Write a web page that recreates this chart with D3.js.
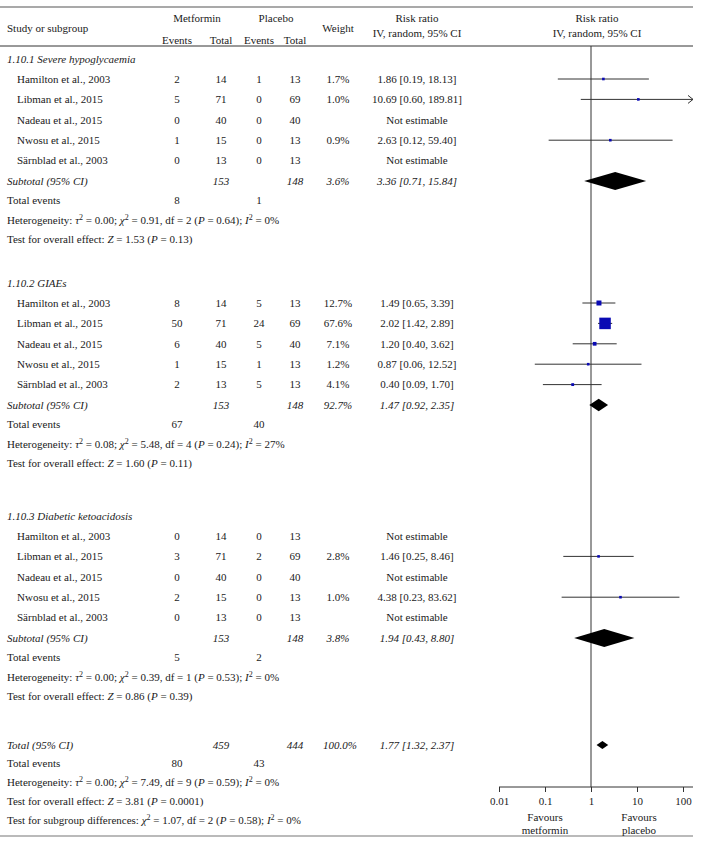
<!DOCTYPE html>
<html><head><meta charset="utf-8">
<script src="https://cdn.jsdelivr.net/npm/d3@7"></script>
<style>
body{margin:0;background:#fff}
text{font-family:"Liberation Serif","Times New Roman",serif;font-size:11px;fill:#1a1a1a}
</style>
</head><body><svg id="c" width="703" height="846"></svg>
<script>
// ---------- data ----------
const subgroups = ["1.10.1 Severe hypoglycaemia", "1.10.2 GIAEs", "1.10.3 Diabetic ketoacidosis"];
const studies = ["Hamilton et al., 2003", "Libman et al., 2015", "Nadeau et al., 2015", "Nwosu et al., 2015", "Särnblad et al., 2003"];
const metEvents = [[2, 5, 0, 1, 0], [8, 50, 6, 1, 2], [0, 3, 0, 2, 0]];
const metTotal = [14, 71, 40, 15, 13];
const plaEvents = [[1, 0, 0, 0, 0], [5, 24, 5, 1, 5], [0, 2, 0, 0, 0]];
const plaTotal = [13, 69, 40, 13, 13];
const weights = [[1.7, 1.0, null, 0.9, null], [12.7, 67.6, 7.1, 1.2, 4.1], [null, 2.8, null, 1.0, null]];
const rr = [[1.86, 10.69, null, 2.63, null], [1.49, 2.02, 1.20, 0.87, 0.40], [null, 1.46, null, 4.38, null]];
const rrLo = [[0.19, 0.60, null, 0.12, null], [0.65, 1.42, 0.40, 0.06, 0.09], [null, 0.25, null, 0.23, null]];
const rrHi = [[18.13, 189.81, null, 59.40, null], [3.39, 2.89, 3.62, 12.52, 1.70], [null, 8.46, null, 83.62, null]];
const subMetTotal = [153, 153, 153];
const subPlaTotal = [148, 148, 148];
const subWeight = [3.6, 92.7, 3.8];
const subRR = [3.36, 1.47, 1.94];
const subLo = [0.71, 0.92, 0.43];
const subHi = [15.84, 2.35, 8.80];
const subMetEvents = [8, 67, 5];
const subPlaEvents = [1, 40, 2];
const hetTau2 = ["0.00", "0.08", "0.00"];
const hetChi2 = ["0.91", "5.48", "0.39"];
const hetDf = [2, 4, 1];
const hetP = ["0.64", "0.24", "0.53"];
const hetI2 = [0, 27, 0];
const testZ = ["1.53", "1.60", "0.86"];
const testP = ["0.13", "0.11", "0.39"];
const overall = {metTotal: 459, plaTotal: 444, weight: "100.0%", rr: 1.77, lo: 1.32, hi: 2.37,
  metEvents: 80, plaEvents: 43, tau2: "0.00", chi2: "7.49", df: 9, p: "0.59", i2: 0, z: "3.81", zp: "0.0001"};
const subgroupDiff = {chi2: "1.07", df: 2, p: "0.58", i2: 0};
const tickValues = [0.01, 0.1, 1, 10, 100];
const tickLabels = ["0.01", "0.1", "1", "10", "100"];

// ---------- layout ----------
const svg = d3.select("#c");
const W = 703;
const col = {name: 7, indent: 17, mE: 177, mT: 221, pE: 259, pT: 295, wt: 338, rr: 417};
const x = d3.scaleLog().domain([0.01, 100]).range([499, 683]);
const xMax = 693;
const fmt2 = d3.format(".2f");
const lineCol = "#333";

const blockStart = [59, 283, 516];
const rows = [];
subgroups.forEach((sg, b) => {
  let y = blockStart[b];
  rows.push({kind: "section", b, y});
  y += 20;
  studies.forEach((s, i) => { rows.push({kind: "study", b, i, y}); y += 20.4; });
  rows.push({kind: "subtotal", b, y: y}); y += 19.5;
  rows.push({kind: "events", b, y}); y += 19.5;
  rows.push({kind: "het", b, y}); y += 19.5;
  rows.push({kind: "test", b, y});
});
const totalY = 745;

function txt(xp, y, s, anchor, italic) {
  return svg.append("text").attr("x", xp).attr("y", y).attr("dy", "0.35em")
    .attr("text-anchor", anchor || "start").style("font-style", italic ? "italic" : "normal").text(s);
}
function rich(xp, y, segs) {
  const t = svg.append("text").attr("x", xp).attr("y", y).attr("dy", "0.35em");
  let shifted = false;
  segs.forEach(sg => {
    const sp = t.append("tspan").text(sg.t);
    if (sg.i) sp.style("font-style", "italic");
    if (sg.sup) { sp.attr("dy", -4).style("font-size", "8px"); shifted = true; }
    else if (shifted) { sp.attr("dy", 4); shifted = false; }
  });
  return t;
}
function hetSegs(tau2, chi2, df, p, i2) {
  return [{t: "Heterogeneity: "}, {t: "τ", i: 1}, {t: "2", sup: 1}, {t: " = " + tau2 + "; "},
    {t: "χ", i: 1}, {t: "2", sup: 1}, {t: " = " + chi2 + ", df = " + df + " ("}, {t: "P", i: 1},
    {t: " = " + p + "); "}, {t: "I", i: 1}, {t: "2", sup: 1}, {t: " = " + i2 + "%"}];
}
function testSegs(z, p) {
  return [{t: "Test for overall effect: "}, {t: "Z", i: 1}, {t: " = " + z + " ("}, {t: "P", i: 1}, {t: " = " + p + ")"}];
}
function diamond(y, est, lo, hi) {
  const xl = x(lo), xr = x(hi), xc = x(est);
  const h = Math.min(9, (xr - xl) / 3);
  svg.append("path").attr("d", `M${xl},${y}L${xc},${y - h}L${xr},${y}L${xc},${y + h}Z`).attr("fill", "#000");
}

// rules
svg.append("line").attr("x1", 0).attr("x2", W - 10).attr("y1", 7).attr("y2", 7).attr("stroke", "#555").attr("stroke-width", 1.2);
svg.append("line").attr("x1", 0).attr("x2", W - 10).attr("y1", 46).attr("y2", 46).attr("stroke", "#333").attr("stroke-width", 1);
svg.append("line").attr("x1", 0).attr("x2", W - 10).attr("y1", 836).attr("y2", 836).attr("stroke", "#777").attr("stroke-width", 1.2);

// header text
txt(col.name, 28, "Study or subgroup");
txt(197, 18, "Metformin", "middle");
txt(276, 18, "Placebo", "middle");
txt(col.mE, 40, "Events", "middle"); txt(col.mT, 40, "Total", "middle");
txt(col.pE, 40, "Events", "middle"); txt(col.pT, 40, "Total", "middle");
txt(col.wt, 28, "Weight", "middle");
txt(col.rr, 18, "Risk ratio", "middle"); txt(col.rr, 33, "IV, random, 95% CI", "middle");
txt(597, 18, "Risk ratio", "middle"); txt(597, 33, "IV, random, 95% CI", "middle");

// null line
svg.append("line").attr("x1", x(1)).attr("x2", x(1)).attr("y1", 46).attr("y2", 787).attr("stroke", lineCol).attr("stroke-width", 1);

rows.forEach(r => {
  const b = r.b;
  if (r.kind === "section") txt(col.name, r.y, subgroups[b], "start", true);
  if (r.kind === "study") {
    const i = r.i;
    txt(col.indent, r.y, studies[i]);
    txt(col.mE, r.y, metEvents[b][i], "middle"); txt(col.mT, r.y, metTotal[i], "middle");
    txt(col.pE, r.y, plaEvents[b][i], "middle"); txt(col.pT, r.y, plaTotal[i], "middle");
    if (rr[b][i] == null) {
      txt(col.rr, r.y, "Not estimable", "middle");
    } else {
      txt(col.wt, r.y, weights[b][i].toFixed(1) + "%", "middle");
      txt(col.rr, r.y, fmt2(rr[b][i]) + " [" + fmt2(rrLo[b][i]) + ", " + fmt2(rrHi[b][i]) + "]", "middle");
      const x1 = x(rrLo[b][i]), x2 = Math.min(x(rrHi[b][i]), xMax);
      svg.append("line").attr("x1", x1).attr("x2", x2).attr("y1", r.y).attr("y2", r.y).attr("stroke", lineCol);
      if (x(rrHi[b][i]) > xMax) {
        svg.append("path").attr("d", `M${xMax - 5},${r.y - 4}L${xMax},${r.y}L${xMax - 5},${r.y + 4}`).attr("fill", "none").attr("stroke", lineCol);
      }
      const s = Math.max(2.6, 1.4 * Math.sqrt(weights[b][i]));
      svg.append("rect").attr("x", x(rr[b][i]) - s / 2).attr("y", r.y - s / 2).attr("width", s).attr("height", s).attr("fill", "#0a0ab4");
    }
  }
  if (r.kind === "subtotal") {
    txt(col.name, r.y, "Subtotal (95% CI)", "start", true);
    txt(col.mT, r.y, subMetTotal[b], "middle", true);
    txt(col.pT, r.y, subPlaTotal[b], "middle", true);
    txt(col.wt, r.y, subWeight[b].toFixed(1) + "%", "middle", true);
    txt(col.rr, r.y, fmt2(subRR[b]) + " [" + fmt2(subLo[b]) + ", " + fmt2(subHi[b]) + "]", "middle", true);
    diamond(r.y, subRR[b], subLo[b], subHi[b]);
  }
  if (r.kind === "events") {
    txt(col.name, r.y, "Total events");
    txt(col.mE, r.y, subMetEvents[b], "middle");
    txt(col.pE, r.y, subPlaEvents[b], "middle");
  }
  if (r.kind === "het") rich(col.name, r.y, hetSegs(hetTau2[b], hetChi2[b], hetDf[b], hetP[b], hetI2[b]));
  if (r.kind === "test") rich(col.name, r.y, testSegs(testZ[b], testP[b]));
});

// overall
txt(col.name, totalY, "Total (95% CI)", "start", true);
txt(col.mT, totalY, overall.metTotal, "middle", true);
txt(col.pT, totalY, overall.plaTotal, "middle", true);
txt(col.wt + 2, totalY, overall.weight, "middle", true);
txt(col.rr, totalY, fmt2(overall.rr) + " [" + fmt2(overall.lo) + ", " + fmt2(overall.hi) + "]", "middle", true);
diamond(totalY, overall.rr, overall.lo, overall.hi);
txt(col.name, totalY + 18.5, "Total events");
txt(col.mE, totalY + 18.5, overall.metEvents, "middle");
txt(col.pE, totalY + 18.5, overall.plaEvents, "middle");
rich(col.name, totalY + 37.5, hetSegs(overall.tau2, overall.chi2, overall.df, overall.p, overall.i2));
rich(col.name, totalY + 56.5, testSegs(overall.z, overall.zp));
rich(col.name, totalY + 75.5, [{t: "Test for subgroup differences: "}, {t: "χ", i: 1}, {t: "2", sup: 1},
  {t: " = " + subgroupDiff.chi2 + ", df = " + subgroupDiff.df + " ("}, {t: "P", i: 1}, {t: " = " + subgroupDiff.p + "); "},
  {t: "I", i: 1}, {t: "2", sup: 1}, {t: " = " + subgroupDiff.i2 + "%"}]);

// axis
const axisY = 787;
const ax = svg.append("g").attr("transform", `translate(0,${axisY})`)
  .call(d3.axisBottom(x).tickValues(tickValues).tickFormat((d, i) => tickLabels[i]).tickSize(5).tickPadding(5));
ax.select(".domain").remove();
ax.selectAll("line").attr("stroke", lineCol);
ax.selectAll("text").style("font-family", '"Liberation Serif",serif').style("font-size", "11px").attr("fill", "#1a1a1a");
svg.append("line").attr("x1", x(0.01)).attr("x2", xMax).attr("y1", axisY).attr("y2", axisY).attr("stroke", lineCol);
txt(x(0.1), 817, "Favours", "middle"); txt(x(0.1), 830, "metformin", "middle");
txt(x(10) + 2, 817, "Favours", "middle"); txt(x(10) + 2, 830, "placebo", "middle");
</script>
</body></html>
